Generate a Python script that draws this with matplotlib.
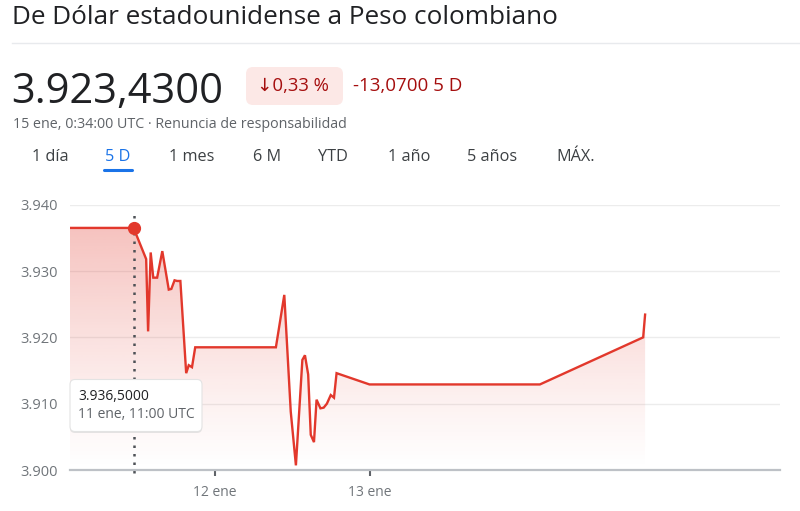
import numpy as np
import matplotlib.pyplot as plt
from matplotlib.patches import FancyBboxPatch
from matplotlib.lines import Line2D
from matplotlib.transforms import IdentityTransform

plt.rcParams['font.family'] = ['Open Sans', 'DejaVu Sans']

# hours since 11 ene 00:00 UTC, rate COP per USD
hours = [1.5, 11.35, 13.3, 13.6, 14.0, 14.4, 15.0, 15.8, 16.8, 17.2, 17.7, 18.1, 18.6,
         19.5, 19.9, 20.4, 20.9, 33.4, 34.7, 35.7, 36.5, 37.5, 37.9, 38.4, 38.8, 39.3,
         39.7, 40.3, 40.8, 41.3, 41.9, 42.4, 42.8, 47.9, 74.3, 90.3, 90.6]
rate = [3936.5, 3936.5, 3931.8, 3920.9, 3932.8, 3929.0, 3929.0, 3933.0, 3927.2, 3927.3,
        3928.6, 3928.5, 3928.5, 3914.6, 3915.8, 3915.5, 3918.5, 3918.5, 3926.4, 3908.8,
        3900.7, 3916.6, 3917.3, 3914.4, 3905.3, 3904.2, 3910.6, 3909.3, 3909.4, 3910.0,
        3911.3, 3910.9, 3914.6, 3912.9, 3912.9, 3920.0, 3923.43]
sel_idx = 1
yticks = [3900, 3910, 3920, 3930, 3940]
xticks = [24, 48]
xlabels = ['12 ene', '13 ene']
tabs = ['1 día', '5 D', '1 mes', '6 M', 'YTD', '1 año', '5 años', 'MÁX.']
tab_x = [32, 105, 169, 253, 318, 388, 467, 556]

W, H = 800, 511
RED = '#e2382c'


def px(x, y):
    return x / W, 1 - y / H


fig = plt.figure(figsize=(W / 100, H / 100), dpi=100)
ax = fig.add_axes([70 / W, 1 - 470 / H, 710 / W, (470 - 204.7) / H])

ax.set_xlim(1.5, 111.5)
ax.set_ylim(3900, 3940)

# gradient fill under the line
poly = ax.fill_between(hours, rate, 3900, facecolor='none', edgecolor='none')
grad = np.zeros((256, 1, 4))
grad[:, 0, :3] = (226 / 255, 56 / 255, 44 / 255)
grad[:, 0, 3] = np.linspace(0, 0.36, 256) ** 1.15
im = ax.imshow(grad, extent=[1.5, 111.5, 3900, 3937], origin='lower', aspect='auto', zorder=1)
im.set_clip_path(poly.get_paths()[0], transform=ax.transData)

ax.plot(hours, rate, color=RED, lw=1.7, zorder=3, solid_joinstyle='miter')

# hover marker
ax.plot([hours[sel_idx]] * 2, [3899.5, 3939.2], color='#4d5156', lw=1.8,
        ls=(0, (1, 2.4)), zorder=2, clip_on=False)
ax.plot(hours[sel_idx], rate[sel_idx], 'o', color=RED, ms=8.5, zorder=4)

for s in ['top', 'right', 'left']:
    ax.spines[s].set_visible(False)
ax.spines['bottom'].set_color('#bdc1c6')
ax.spines['bottom'].set_linewidth(1.6)

ax.set_yticks(yticks)
ax.set_yticklabels([f'{v:,.0f}'.replace(',', '.') for v in yticks])
ax.set_xticks(xticks)
ax.set_xticklabels(xlabels)
ax.tick_params(axis='y', length=0, pad=9, labelsize=10.5, labelcolor='#70757a')
ax.tick_params(axis='x', length=4, width=1.5, color='#5f6368', pad=7,
               labelsize=10, labelcolor='#70757a')
ax.grid(axis='y', color='#ececec', lw=1)
ax.set_axisbelow(True)

# header
fig.text(*px(12, 17), 'De Dólar estadounidense a Peso colombiano', fontsize=18.8,
         va='center', color='#202124')
fig.add_artist(Line2D([12 / W, 1], [1 - 43 / H] * 2, color='#e8eaed', lw=1))
fig.text(*px(11, 102.5), '3.923,4300', fontsize=30, va='baseline', color='#202124')
fig.add_artist(FancyBboxPatch((246, H - 105), 97, 38, boxstyle='round,pad=0,rounding_size=7',
                              transform=IdentityTransform(), fc='#fce8e6', ec='none'))
fig.text(*px(257, 86), '↓0,33 %', fontsize=13.3, va='center', color='#a50e0e')
fig.text(*px(353, 86), '-13,0700 5 D', fontsize=13.5, va='center', color='#a50e0e')
fig.text(*px(13, 124), '15 ene, 0:34:00 UTC · Renuncia de responsabilidad', fontsize=10.3,
         va='center', color='#5f6368')
for t, x in zip(tabs, tab_x):
    fig.text(*px(x, 157), t, fontsize=11.7, va='center',
             color='#1a73e8' if t == '5 D' else '#3c4043')
fig.add_artist(Line2D([104 / W, 132 / W], [1 - 170 / H] * 2, color='#1a73e8', lw=2.2,
                      solid_capstyle='round'))

# tooltip
fig.add_artist(FancyBboxPatch((70, H - 433), 132, 52, boxstyle='round,pad=0,rounding_size=5',
                              transform=IdentityTransform(), fc='#c8c8c8', ec='none',
                              alpha=0.45, zorder=5))
fig.add_artist(FancyBboxPatch((70, H - 431.5), 132, 52, boxstyle='round,pad=0,rounding_size=5',
                              transform=IdentityTransform(), fc='white', ec='#e3e3e3',
                              lw=0.8, zorder=6))
fig.text(*px(78, 396), '3.936,5000', fontsize=10, va='center', color='#202124',
         weight='medium', zorder=7)
fig.text(*px(78, 414.5), '11 ene, 11:00 UTC', fontsize=10, va='center', color='#5f6368',
         zorder=7)

fig.savefig('out.png', dpi=100)
